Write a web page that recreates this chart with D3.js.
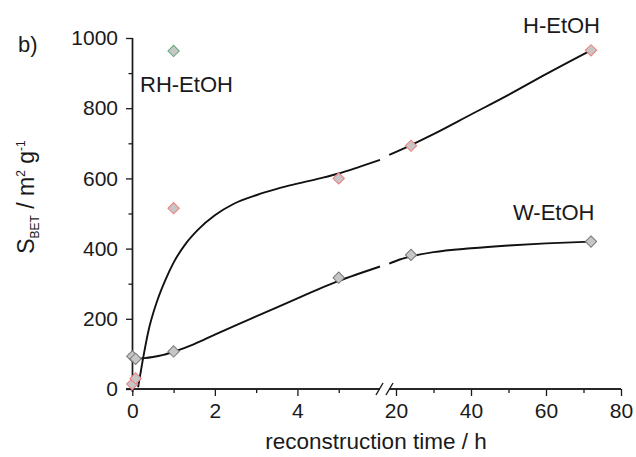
<!DOCTYPE html>
<html>
<head>
<meta charset="utf-8">
<script src="https://cdn.jsdelivr.net/npm/d3@7"></script>
<style>
  html, body { margin: 0; padding: 0; background: #fff; }
  svg { display: block; font-family: "Liberation Sans", Arial, sans-serif; }
</style>
</head>
<body>
<div id="chart"></div>
<script>
// ---------- data ----------
const yTicksMajor = [0, 200, 400, 600, 800, 1000];
const yTicksMinor = [100, 300, 500, 700, 900];
const xLeftTicks = [0, 2, 4];
const xLeftMinor = [1, 3, 5];
const xRightTicks = [20, 40, 60, 80];
const xRightMinor = [30, 50, 70];

// measured points (time in h, S_BET in m2/g)
const hTime = [0, 0.08, 1, 5, 24, 72];
const hVal  = [14, 30, 515, 600, 693, 965];
const wTime = [0, 0.08, 1, 5, 24, 72];
const wVal  = [93, 86, 107, 317, 382, 420];
const rhTime = [1];
const rhVal  = [963];

// fitted guide curves
const hFitLeftT  = [0.14, 0.25, 0.4, 0.6, 0.8, 1.0, 1.3, 1.6, 2.0, 2.45, 3.0, 3.5, 4.0, 4.54, 5.0, 5.5, 6.0];
const hFitLeftV  = [5, 80, 170, 250, 310, 360, 415, 455, 495, 527, 552, 570, 585, 600, 614, 633, 653];
const hFitRightT = [18.2, 24, 30, 40, 50, 60, 72];
const hFitRightV = [667, 695, 726, 782, 838, 897, 965];
const wFitLeftT  = [0.14, 0.3, 0.5, 0.75, 1.0, 1.5, 2.0, 3.0, 4.0, 4.5, 5.0, 5.5, 6.0];
const wFitLeftV  = [87, 88, 91, 97, 106, 128, 155, 207, 258, 284, 308, 329, 349];
const wFitRightT = [18.2, 21, 24, 30, 40, 50, 60, 72];
const wFitRightV = [357, 369, 378, 390, 401, 409, 415, 420];

// ---------- layout ----------
const W = 636, H = 457;
const svg = d3.select("#chart").append("svg").attr("width", W).attr("height", H);
const ink = "#1a1a1a";

const y = d3.scaleLinear().domain([0, 1000]).range([389, 38]);
const xL = d3.scaleLinear().domain([0, 6]).range([132.3, 380]);
const xR = d3.scaleLinear().domain([18, 80]).range([388.5, 621]);
const xOf = t => (t <= 10 ? xL(t) : xR(t));

const fontTick = 21;

// y axis
const gy = svg.append("g").attr("transform", "translate(132.5,0)");
gy.call(d3.axisLeft(y).tickValues(yTicksMajor).tickSize(6.5).tickSizeOuter(0).tickPadding(8).tickFormat(d3.format("d")));
gy.append("g").call(d3.axisLeft(y).tickValues(yTicksMinor).tickSize(4).tickSizeOuter(0).tickFormat(""));
gy.selectAll("path.domain").attr("d", `M0,${y(0) + 3}V${y(1000)}`);
gy.selectAll("line").attr("stroke", ink).attr("stroke-width", 1.3);
gy.selectAll("path").attr("stroke", ink).attr("stroke-width", 1.4);
gy.selectAll("text").attr("font-size", fontTick).attr("fill", ink).attr("font-family", "Liberation Sans, Arial, sans-serif");

// x axes (broken)
function xAxis(scale, major, minor, x0, x1) {
  const g = svg.append("g").attr("transform", `translate(0,${y(0)})`);
  g.call(d3.axisBottom(scale).tickValues(major).tickSize(7).tickSizeOuter(0).tickPadding(7).tickFormat(d3.format("d")));
  g.append("g").call(d3.axisBottom(scale).tickValues(minor).tickSize(4).tickSizeOuter(0).tickFormat(""));
  g.selectAll("path.domain").attr("d", `M${x0},0H${x1}`);
  g.selectAll("line").attr("stroke", ink).attr("stroke-width", 1.3);
  g.selectAll("path").attr("stroke", ink).attr("stroke-width", 1.4);
  g.selectAll("text").attr("font-size", fontTick).attr("fill", ink).attr("font-family", "Liberation Sans, Arial, sans-serif");
  return g;
}
xAxis(xL, xLeftTicks, xLeftMinor, 126, xL(6));
xAxis(xR, xRightTicks, xRightMinor, xR(18) + 1, xR(80));

// break marks
const brk = svg.append("g").attr("stroke", ink).attr("stroke-width", 1.4);
[xL(6) - 0.5, xR(18) + 1].forEach(cx => {
  brk.append("line").attr("x1", cx - 3.5).attr("y1", y(0) + 6).attr("x2", cx + 3.5).attr("y2", y(0) - 6);
});

// curves
const line = d3.line().x(d => xOf(d[0])).y(d => y(d[1])).curve(d3.curveMonotoneX);
const zip = (a, b) => a.map((v, i) => [v, b[i]]);
const curves = svg.append("g").attr("fill", "none").attr("stroke", "#111").attr("stroke-width", 1.9);
[[hFitLeftT, hFitLeftV], [hFitRightT, hFitRightV], [wFitLeftT, wFitLeftV], [wFitRightT, wFitRightV]]
  .forEach(([t, v]) => curves.append("path").attr("d", line(zip(t, v))));

// markers (diamonds)
const sym = d3.symbol(d3.symbolSquare, 64);
function markers(ts, vs, stroke) {
  svg.append("g").selectAll("path").data(zip(ts, vs)).join("path")
    .attr("d", sym)
    .attr("transform", d => `translate(${xOf(d[0])},${y(d[1])}) rotate(45)`)
    .attr("fill", "#c6c6c6").attr("stroke", stroke).attr("stroke-width", 1);
}
markers(wTime, wVal, "#7a7a7a");
markers(hTime, hVal, "#f07c7c");
markers(rhTime, rhVal, "#5fa87a");

// labels
const lbl = (txt, x, yy, anchor = "start", size = 22) =>
  svg.append("text").attr("x", x).attr("y", yy).attr("text-anchor", anchor)
    .attr("font-size", size).attr("fill", ink).text(txt);
lbl("b)", 18, 52);
lbl("RH-EtOH", 140, 92);
lbl("H-EtOH", 523, 33);
lbl("W-EtOH", 513, 220);

// x title
lbl("reconstruction time / h", 376, 449, "middle", 22.5);

// y title
const yt = svg.append("text").attr("transform", "translate(34,197) rotate(-90)")
  .attr("text-anchor", "middle").attr("font-size", 23).attr("fill", ink);
yt.append("tspan").text("S");
yt.append("tspan").attr("font-size", 12).attr("dy", 5).text("BET");
yt.append("tspan").attr("dy", -5).text(" / m");
yt.append("tspan").attr("font-size", 12).attr("dy", -9).text("2");
yt.append("tspan").attr("dy", 9).text(" g");
yt.append("tspan").attr("font-size", 12).attr("dy", -9).text("-1");
</script>
</body>
</html>
